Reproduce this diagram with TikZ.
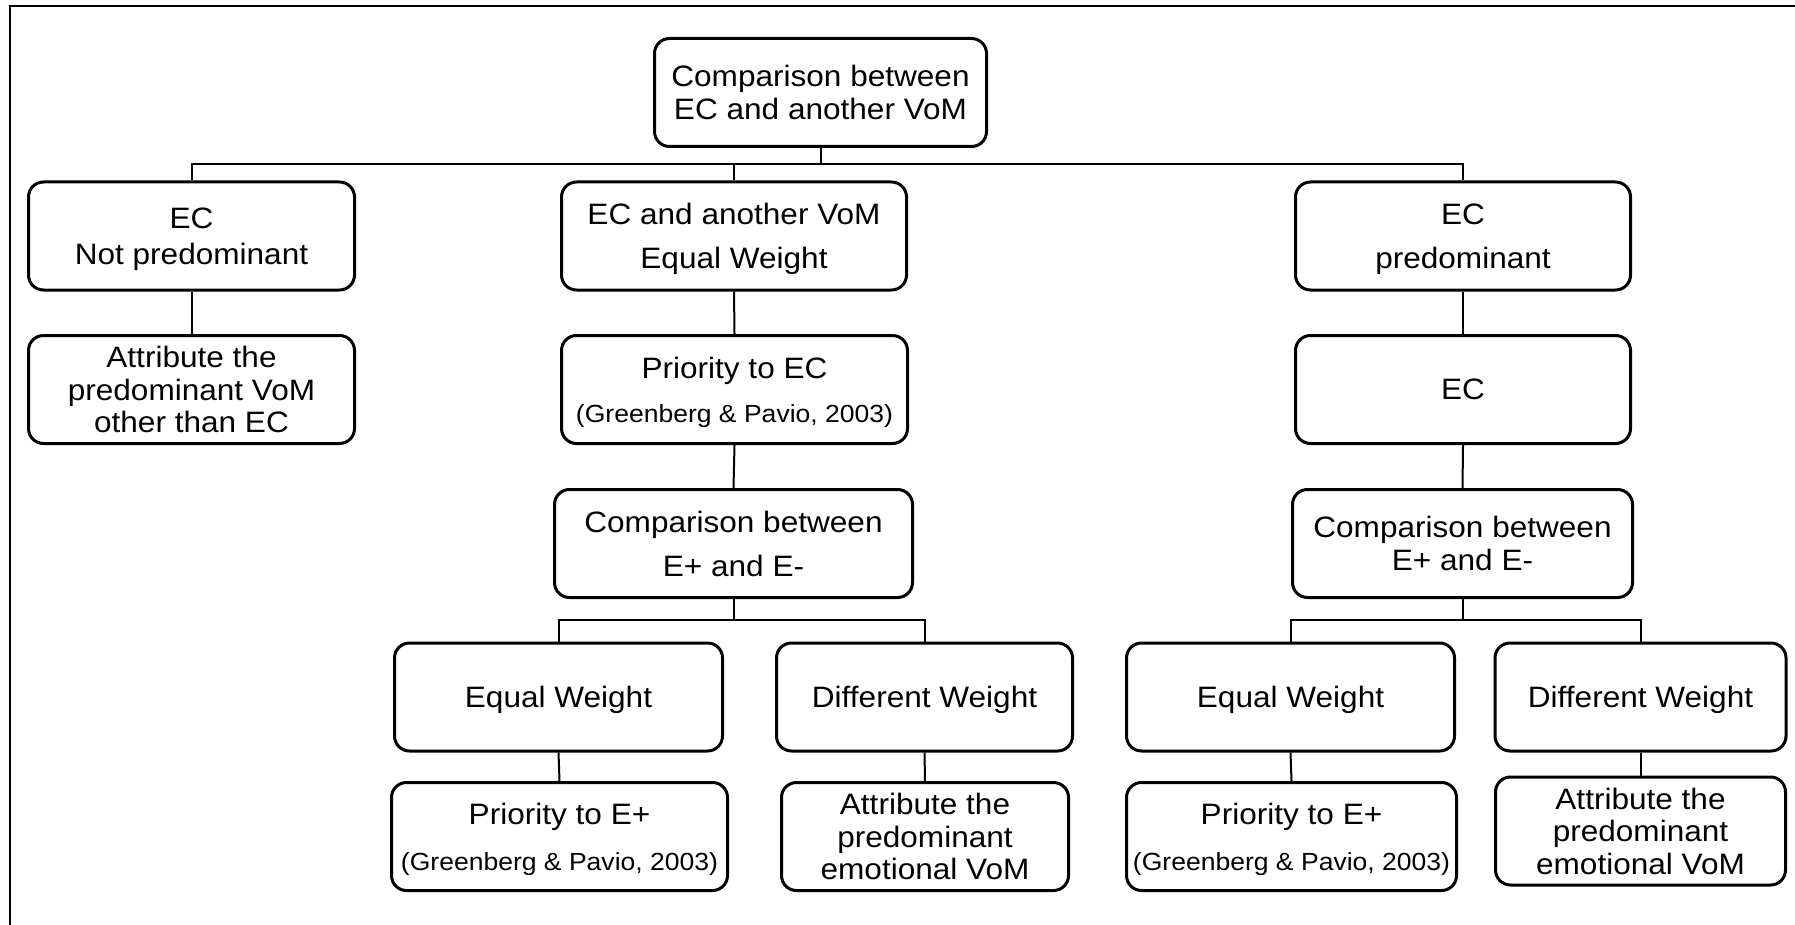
\documentclass[tikz,border=0pt]{standalone}
\usepackage{fontspec}
\setmainfont{Liberation Sans}[FakeStretch=1.07]
\usetikzlibrary{calc}
% last line of a box: keep its height, drop its depth so the text block is cap-centred
\newcommand\flatline[1]{\raisebox{0pt}[\height][0pt]{#1}}
\newcommand\refsize{\fontsize{24.8}{30}\selectfont}

\begin{document}
\begin{tikzpicture}[x=1pt,y=-1pt,
  box/.style={draw=black, line width=3pt, rounded corners=15pt, align=center,
              inner sep=0pt, minimum height=108pt, font=\fontsize{29.5}{33}\selectfont},
  tight/.style={font=\fontsize{29.5}{33}\selectfont},
  loose/.style={font=\fontsize{29.5}{44.5}\selectfont},
  link/.style={draw=black, line width=2pt},
  frame/.style={draw=black, line width=2pt}]
\useasboundingbox (0,0) rectangle (1795,925);

% outer frame (top and left edges)
\coordinate (frameBL) at (9.5,925);
\coordinate (frameTL) at (9.5,6);
\coordinate (frameTR) at (1795,6);
\draw[frame] (frameBL) -- (frameTL) -- (frameTR);

% root
\node[box, tight, minimum width=332pt] (root) at (820.5,92.5)
  {Comparison between\\\flatline{EC and another VoM}};

% first level
\node[box, minimum width=326pt, font=\fontsize{29.5}{36}\selectfont] (notpre) at (191.5,236)
  {EC\\\flatline{Not predominant}};
\node[box, loose, minimum width=345pt] (equal) at (734,236)
  {EC and another VoM\\\flatline{Equal Weight}};
\node[box, loose, minimum width=335pt] (pre) at (1463,236)
  {EC\\\flatline{predominant}};

% second level
\node[box, font=\fontsize{29.5}{32.5}\selectfont, minimum width=326pt] (attrvom) at (191.5,389.5)
  {Attribute the\\predominant VoM\\\flatline{other than EC}};
\node[box, font=\fontsize{29.5}{44}\selectfont, minimum width=346pt] (prioec) at (734.5,389.5)
  {Priority to EC\\\flatline{\refsize (Greenberg \& Pavio, 2003)}};
\node[box, minimum width=335pt] (ec) at (1463,389.5)
  {\flatline{EC}};

% comparison between E+ and E-
\node[box, font=\fontsize{29.5}{44}\selectfont, minimum width=358pt] (cmpmid) at (733.5,543.5)
  {Comparison between\\\flatline{E+ and E-}};
\node[box, tight, minimum width=340pt] (cmpright) at (1462.5,543.5)
  {Comparison between\\\flatline{E+ and E-}};

% weights
\node[box, minimum width=328pt] (eqmid) at (558.5,697)
  {\flatline{Equal Weight}};
\node[box, minimum width=296pt] (difmid) at (924.5,697)
  {\flatline{Different Weight}};
\node[box, minimum width=328pt] (eqright) at (1290.5,697)
  {\flatline{Equal Weight}};
\node[box, minimum width=291pt] (difright) at (1640.5,697)
  {\flatline{Different Weight}};

% outcomes
\node[box, font=\fontsize{29.5}{46}\selectfont, minimum width=336pt] (prioemid) at (559.5,836.5)
  {Priority to E+\\\flatline{\refsize (Greenberg \& Pavio, 2003)}};
\node[box, font=\fontsize{29.5}{32.5}\selectfont, minimum width=287pt] (attrmid) at (925,836.5)
  {Attribute the\\predominant\\\flatline{emotional VoM}};
\node[box, font=\fontsize{29.5}{46}\selectfont, minimum width=330pt] (prioeright) at (1291.5,836.5)
  {Priority to E+\\\flatline{\refsize (Greenberg \& Pavio, 2003)}};
\node[box, font=\fontsize{29.5}{32.5}\selectfont, minimum width=290pt] (attrright) at (1640.5,831)
  {Attribute the\\predominant\\\flatline{emotional VoM}};

% bus levels
\coordinate (busA) at (0,164);
\coordinate (busB) at (0,620);

% connectors
\draw[link] (root.south) -- (root.south |- busA) -| (notpre.north);
\draw[link] (root.south |- busA) -| (equal.north);
\draw[link] (root.south |- busA) -| (pre.north);

\draw[link] (notpre.south) -- (attrvom.north);
\draw[link] (equal.south) -- (prioec.north);
\draw[link] (prioec.south) -- (cmpmid.north);
\draw[link] (pre.south) -- (ec.north);
\draw[link] (ec.south) -- (cmpright.north);

\draw[link] (cmpmid.south) -- (cmpmid.south |- busB) -| (eqmid.north);
\draw[link] (cmpmid.south |- busB) -| (difmid.north);
\draw[link] (cmpright.south) -- (cmpright.south |- busB) -| (eqright.north);
\draw[link] (cmpright.south |- busB) -| (difright.north);

\draw[link] (eqmid.south) -- (prioemid.north);
\draw[link] (difmid.south) -- (attrmid.north);
\draw[link] (eqright.south) -- (prioeright.north);
\draw[link] (difright.south) -- (attrright.north);
\end{tikzpicture}
\end{document}
